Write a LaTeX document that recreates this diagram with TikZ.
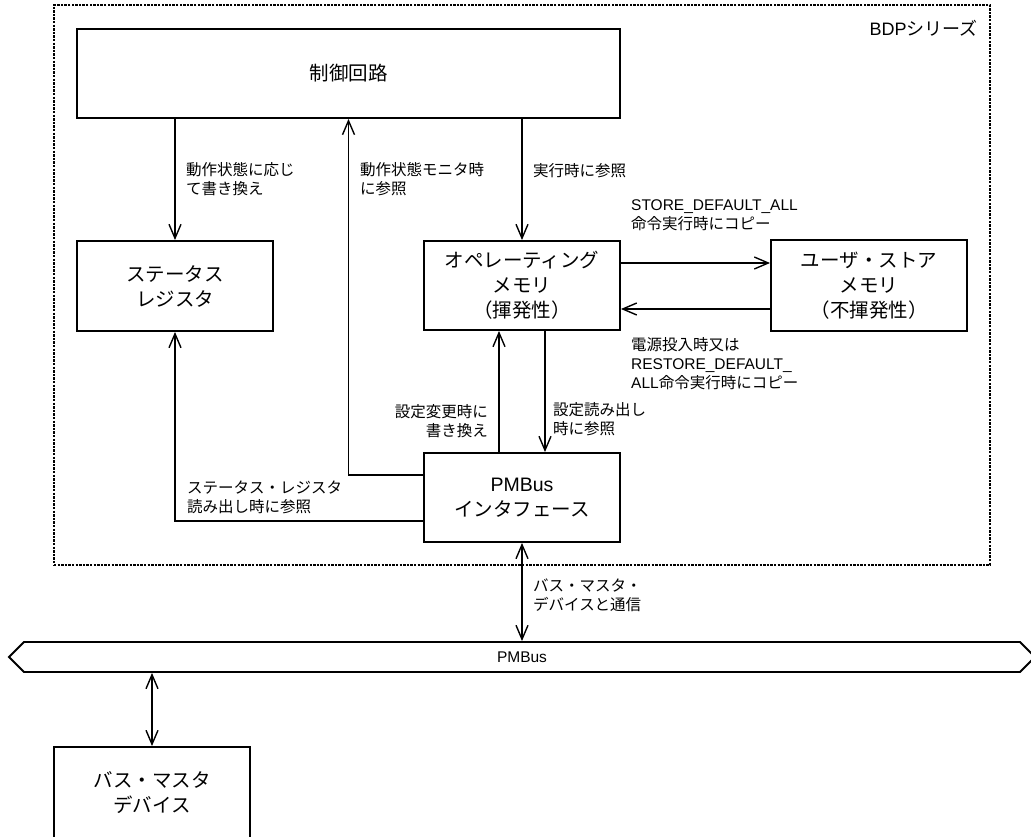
\documentclass[tikz,border=0pt]{standalone}
\usepackage{fontspec}
\setmainfont{Liberation Sans}
\newfontfamily\jp{Noto Sans CJK JP}
\usetikzlibrary{arrows.meta,shapes.symbols}
\begin{document}
\begin{tikzpicture}[x=1pt,y=-1pt,
  box/.style={draw, line width=1.9pt, minimum width=196pt, minimum height=89pt, align=center, inner sep=0pt, font=\fontsize{19.5}{25}\selectfont\jp},
  arr/.style={line width=1.4pt, -{Straight Barb[length=14pt,width=12pt]}},
  darr/.style={line width=1.4pt, {Straight Barb[length=14pt,width=12pt]}-{Straight Barb[length=14pt,width=12pt]}},
  lbl/.style={inner sep=0pt, align=left, anchor=west, font=\fontsize{15.5}{19}\selectfont\jp},
  border/.style={draw, line width=2.4pt, dash pattern=on 2.4pt off 1.2pt, inner sep=0pt},
]
\useasboundingbox (0,0) rectangle (1031,837);

% series border
\node[border, minimum width=936pt, minimum height=560pt] (bdp) at (522,285) {};
\node[anchor=east, inner sep=0pt, font=\fontsize{18}{22}\selectfont] (bdpl) at (978,28) {BDP{\jp シリーズ}};

% boxes
\node[box, minimum width=543pt] (ctrl) at (348.5,73.5) {制御回路};
\node[box, minimum height=90pt] (status) at (175,286) {ステータス\\レジスタ};
\node[box] (opmem) at (522,285.5) {オペレーティング\\メモリ\\（揮発性）};
\node[box, minimum height=91pt] (user) at (869,285.5) {ユーザ・ストア\\メモリ\\（不揮発性）};
\node[box] (pmbi) at (522,497.5) {{\rmfamily PMBus}\\インタフェース};
\node[box, minimum height=92pt] (master) at (152,793) {バス・マスタ\\デバイス};

% bus
\node[signal, signal to=west and east, draw, line width=1.9pt, minimum width=1026pt, minimum height=30pt, signal pointer angle=90, inner sep=0pt, font=\fontsize{15.5}{19}\selectfont] (bus) at (522,657) {PMBus};

% connectors
\draw[arr] (status.north |- ctrl.south) -- (status.north);
\draw[arr] ([yshift=22.5pt]pmbi.west) -| (ctrl.south);
\draw[arr] (opmem.north |- ctrl.south) -- (opmem.north);
\coordinate (a1) at ([yshift=22.5pt]opmem.east);
\draw[arr] (a1) -- (a1 -| user.west);
\coordinate (a2) at ([yshift=-23.5pt]user.west);
\draw[arr] (a2) -- (a2 -| opmem.east);
\coordinate (a3) at ([xshift=-23pt]pmbi.north);
\draw[arr] (a3) -- (a3 |- opmem.south);
\coordinate (a4) at ([xshift=23pt]opmem.south);
\draw[arr] (a4) -- (a4 |- pmbi.north);
\coordinate (a5) at ([yshift=-23.5pt]pmbi.west);
\draw[arr] (a5) -| (status.south);
\draw[darr] (pmbi.south) -- (pmbi.south |- bus.north);
\draw[darr] (master.north |- bus.south) -- (master.north);

% labels
\node[lbl] (l1) at (186,179.5) {動作状態に応じ\\て書き換え};
\node[lbl] (l2) at (360,179.5) {動作状態モニタ時\\に参照};
\node[lbl] (l3) at (533,171) {実行時に参照};
\node[lbl] (l4) at (631,215) {{\rmfamily STORE\_DEFAULT\_ALL}\\命令実行時にコピー};
\node[lbl] (l5) at (631,363.5) {電源投入時又は\\{\rmfamily RESTORE\_DEFAULT\_}\\{\rmfamily ALL}命令実行時にコピー};
\node[lbl, anchor=east, align=right] (l6) at (488,421) {設定変更時に\\書き換え};
\node[lbl] (l7) at (553,419) {設定読み出し\\時に参照};
\node[lbl] (l8) at (187,497.5) {ステータス・レジスタ\\読み出し時に参照};
\node[lbl] (l9) at (533,595) {バス・マスタ・\\デバイスと通信};
\end{tikzpicture}
\end{document}
